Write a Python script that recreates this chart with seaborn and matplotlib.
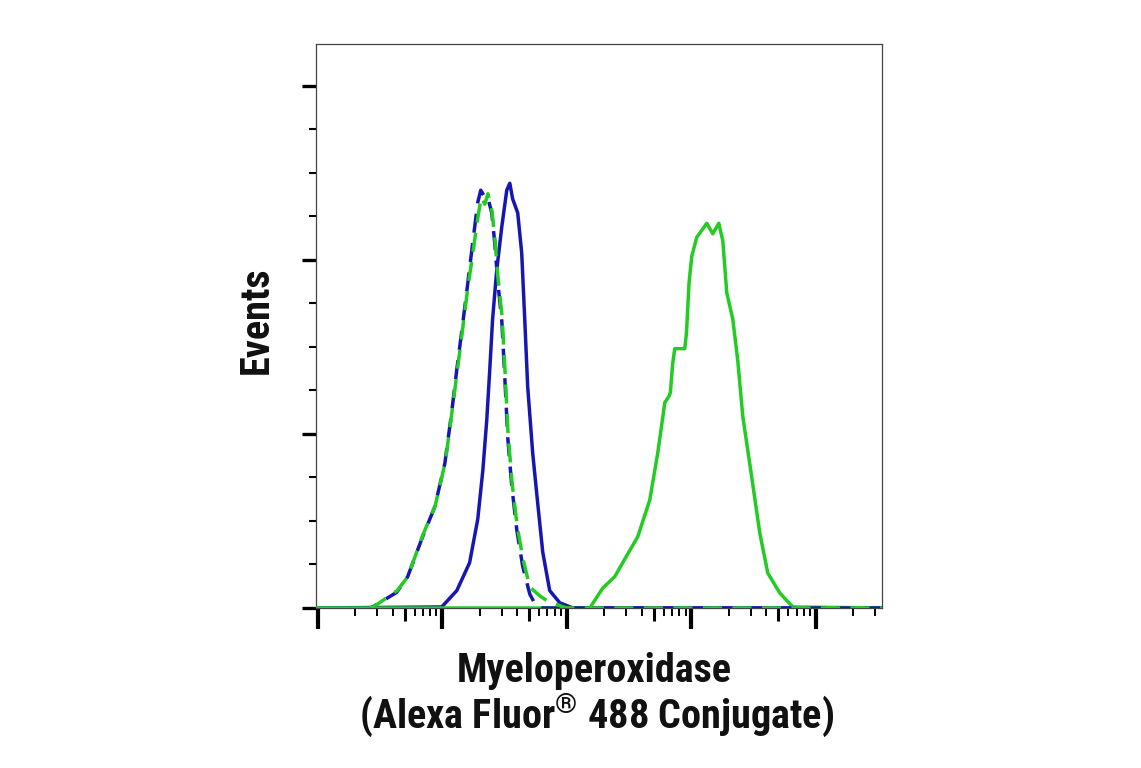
import numpy as np
import pandas as pd
import matplotlib
matplotlib.use("Agg")
import matplotlib.pyplot as plt
from matplotlib import font_manager
from matplotlib.ticker import FixedLocator, NullFormatter
import seaborn as sns

# x = fluorescence (log scale), y = events
blue_solid_x = [0.97, 9.91, 13.1, 16.6, 19.3, 21.2, 22.8, 24.1, 25.4, 27.4, 30.1, 33.0, 34.9,
                36.8, 40.4, 43.5, 46.0, 48.6, 53.3, 58.5, 64.2, 73.0, 87.9, 112, 34000]
blue_solid_y = [0, 0.6, 10, 26, 51, 79, 108, 137, 166, 194, 219, 240, 244,
                235, 227, 204, 166, 127, 89, 60, 32, 10, 3, 0, 0]

green_solid_x = [0.97, 153, 195, 243, 292, 372, 464, 538, 613, 667, 680, 708, 737, 808, 887,
                 915, 960, 1009, 1107, 1332, 1488, 1663, 1791, 1928, 2154, 2363, 2592,
                 3061, 3550, 4117, 5139, 6536, 34000]
green_solid_y = [0, 0, 11.5, 18, 28, 41, 62, 89, 118, 122, 124, 140, 149, 149, 149,
                 158, 187, 202, 213, 221, 215, 221, 211, 181, 166, 142, 110,
                 75, 43, 20, 8.6, 0.6, 0]

blue_dash_x = [2.6, 2.77, 4.31, 5.28, 6.97, 8.71, 10.5, 11.9, 13.1, 14.3, 15.7, 17.6, 19.3, 20.4,
               22.0, 23.2, 25.0, 26.4, 27.9, 30.1, 31.8, 33.6, 36.2, 39.7, 44.3, 50.5, 56.0,
               62.0, 34000]
blue_dash_y = [0, 0.6, 9, 18, 41, 58, 83, 112, 137, 158, 181, 210, 233, 240,
               236, 236, 227, 210, 188, 165, 133, 98, 70, 45, 24, 8, 2, 0, 0]

green_dash_x = [2.6, 2.80, 4.35, 5.30, 7.00, 8.80, 10.6, 12.0, 13.2, 14.4, 15.8, 17.7, 19.5, 20.6,
                22.0, 23.3, 25.1, 26.5, 28.0, 30.3, 32.0, 33.8, 36.4, 40.0, 44.6, 50.5, 60.7,
                70.0, 83.1, 100, 34000]
green_dash_y = [0, 0.6, 10, 18, 42, 59, 84, 113, 136, 157, 180, 205, 226, 236,
                232, 238, 228, 212, 190, 167, 135, 100, 72, 47, 28, 12, 7,
                4, 2, 0, 0]

blue = "#1616b2"
green = "#22cc22"

# pick a narrow bold font if one is there
names = {f.name for f in font_manager.fontManager.ttflist}
if "Liberation Sans Narrow" in names:
    fam, fs = "Liberation Sans Narrow", 30
elif "Roboto Condensed" in names:
    fam, fs = "Roboto Condensed", 29
else:
    fam, fs = "Roboto", 26

sns.set_style("white")
plt.rcParams['font.family'] = [fam, 'DejaVu Sans']
plt.rcParams['mathtext.fontset'] = 'custom'
plt.rcParams['mathtext.rm'] = fam + ':bold'
plt.rcParams['mathtext.bf'] = fam + ':bold'

fig = plt.figure(figsize=(11.41, 7.68), dpi=100)
ax = fig.add_axes([316 / 1141, 1 - 608 / 768, (882 - 316) / 1141, (608 - 44) / 768])

lw = 2.5
sns.lineplot(x=blue_solid_x, y=blue_solid_y, ax=ax, color=blue, lw=lw,
             estimator=None, sort=False, zorder=3)
sns.lineplot(x=green_solid_x, y=green_solid_y, ax=ax, color=green, lw=lw,
             estimator=None, sort=False, zorder=4)
sns.lineplot(x=blue_dash_x, y=blue_dash_y, ax=ax, color=blue, lw=lw,
             linestyle=(3, (5.5, 3)), estimator=None, sort=False, zorder=5)
sns.lineplot(x=green_dash_x, y=green_dash_y, ax=ax, color=green, lw=lw,
             linestyle=(0, (5.5, 3)), estimator=None, sort=False, zorder=6)

ax.set_xscale("log")
ax.set_xlim(0.97, 34000)
ax.set_ylim(0, 324)

ax.xaxis.set_major_locator(FixedLocator([1, 10, 100, 1000, 10000]))
ax.xaxis.set_minor_locator(FixedLocator([m * 10 ** k for k in range(5) for m in (2, 3, 4, 6, 7, 8, 9)]))
ax.yaxis.set_major_locator(FixedLocator([0, 100, 200, 300]))
ax.yaxis.set_minor_locator(FixedLocator([v for v in range(0, 325, 25) if v % 100]))
ax.xaxis.set_major_formatter(NullFormatter())
ax.xaxis.set_minor_formatter(NullFormatter())
ax.yaxis.set_major_formatter(NullFormatter())
ax.set_xlabel("")
ax.set_ylabel("")

ax.tick_params(axis="x", which="major", direction="out", length=15, width=3, color="black")
ax.tick_params(axis="x", which="minor", direction="out", length=5.5, width=1.4, color="black")
ax.tick_params(axis="y", which="major", direction="out", length=10, width=2.4, color="black")
ax.tick_params(axis="y", which="minor", direction="out", length=5, width=1.5, color="black")
ax.tick_params(bottom=True, left=True, which="both")

# medium ticks at 5 x 10^k
sec = ax.secondary_xaxis("bottom", functions=(lambda v: v, lambda v: v))
sec.set_xticks([5 * 10 ** k for k in range(4)])
sec.xaxis.set_minor_locator(FixedLocator([]))
sec.xaxis.set_major_formatter(NullFormatter())
sec.tick_params(axis="x", which="major", direction="out", length=9.5, width=2.2, color="black")
sec.spines["bottom"].set_visible(False)

for s in ax.spines.values():
    s.set_color("#444444")
    s.set_linewidth(0.9)

fig.text(268 / 1141, 1 - 320 / 768, "Events", rotation=90, rotation_mode="anchor",
         ha="center", va="baseline", fontsize=fs, fontweight="bold", color="#111111")
fig.text(594 / 1141, 1 - 682 / 768, "Myeloperoxidase", ha="center", va="baseline",
         fontsize=fs, fontweight="bold", color="#111111")
fig.text(597 / 1141, 1 - 728 / 768, r"(Alexa Fluor$^{\mathbf{®}}$ 488 Conjugate)", ha="center",
         va="baseline", fontsize=fs, fontweight="bold", color="#111111")

fig.savefig("out.png", dpi=100)
